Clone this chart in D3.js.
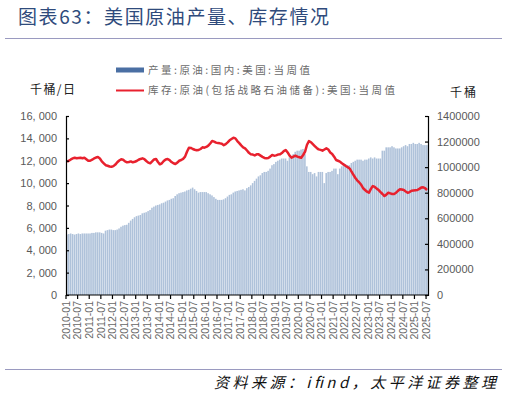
<html>
<head>
<meta charset="utf-8">
<script src="https://d3js.org/d3.v7.min.js"></script>
<style>
body { margin: 0; background: #fff; }
svg text { font-family: "Liberation Sans", Arial, sans-serif; }
.cjk { font-family: "Noto Sans CJK SC", sans-serif; }
</style>
</head>
<body>
<svg width="507" height="396"></svg>
<script>
// months 2010-01 .. 2025-07
var months = [];
for (var y = 2010; y <= 2025; y++) {
  for (var m = 1; m <= 12; m++) {
    if (y == 2025 && m > 7) break;
    months.push(y + "-" + (m < 10 ? "0" + m : m));
  }
}

// crude production, thousand b/d (monthly read-off)
var production = [
  5400,5450,5500,5450,5400,5450,5500,5450,5500,5500,5500,5500,
  5500,5550,5550,5600,5600,5600,5550,5500,5750,5800,5850,5850,
  5800,5800,5850,5950,6100,6200,6250,6280,6450,6650,6800,6950,
  7050,7100,7150,7300,7350,7400,7500,7600,7800,7900,8000,8050,
  8100,8200,8250,8350,8450,8500,8600,8650,8850,9000,9100,9150,
  9200,9250,9350,9400,9500,9600,9450,9300,9150,9200,9200,9200,
  9200,9100,9000,8900,8750,8600,8500,8500,8500,8550,8650,8800,
  8950,9000,9150,9250,9300,9350,9400,9450,9350,9550,9650,9800,
  10000,10200,10400,10600,10700,10900,11000,11000,11100,11300,11600,11700,
  11900,12000,12100,12200,12200,12200,12000,12300,12400,12600,12800,12900,
  12900,13000,13050,12600,11500,11000,11000,10800,10900,10600,11000,11000,
  11000,10000,10900,11000,11000,11100,11300,11300,10800,11300,11500,11700,
  11700,11600,11600,11800,11900,12000,12100,12100,12100,12000,12100,12100,
  12200,12300,12200,12300,12200,12200,12200,12900,12900,13200,13200,13200,
  13300,13200,13100,13100,13100,13200,13300,13400,13300,13500,13500,13600,
  13500,13500,13600,13500,13400,13400,13400
];

// crude stocks incl. SPR, thousand barrels
var stocks = [
  1043000,1050000,1060000,1068000,1074000,1070000,1072000,1074000,1070000,1074000,1062000,1050000,
  1050000,1058000,1068000,1075000,1079000,1068000,1045000,1030000,1015000,1011000,1005000,1003000,
  1008000,1020000,1038000,1052000,1061000,1058000,1045000,1038000,1040000,1045000,1038000,1042000,
  1048000,1058000,1064000,1069000,1062000,1048000,1035000,1030000,1045000,1060000,1064000,1040000,
  1022000,1030000,1048000,1060000,1064000,1055000,1040000,1030000,1025000,1035000,1050000,1056000,
  1065000,1082000,1120000,1152000,1150000,1142000,1136000,1132000,1134000,1142000,1155000,1152000,
  1158000,1168000,1185000,1205000,1200000,1192000,1188000,1186000,1183000,1172000,1180000,1194000,
  1210000,1220000,1230000,1225000,1204000,1188000,1170000,1155000,1147000,1130000,1112000,1100000,
  1098000,1092000,1100000,1100000,1090000,1080000,1072000,1069000,1072000,1082000,1095000,1090000,
  1092000,1098000,1100000,1110000,1125000,1134000,1115000,1090000,1074000,1082000,1090000,1082000,
  1078000,1074000,1095000,1121000,1175000,1204000,1195000,1180000,1165000,1150000,1139000,1135000,
  1129000,1138000,1147000,1138000,1115000,1103000,1082000,1056000,1050000,1043000,1030000,1020000,
  1009000,1000000,990000,965000,940000,915000,895000,880000,862000,835000,821000,808000,
  800000,830000,852000,845000,832000,821000,805000,790000,774000,785000,800000,795000,
  790000,790000,800000,815000,827000,825000,821000,810000,800000,805000,816000,818000,
  820000,821000,830000,840000,842000,835000,821000
];

var leftTicks = [0, 2000, 4000, 6000, 8000, 10000, 12000, 14000, 16000];
var rightTicks = [0, 200000, 400000, 600000, 800000, 1000000, 1200000, 1400000];
var legendNames = ["产量:原油:国内:美国:当周值", "库存:原油(包括战略石油储备):美国:当周值"];

var svg = d3.select("svg");
var plotLeft = 66, plotRight = 428, plotTop = 116, plotBottom = 295;

var x = d3.scaleBand().domain(d3.range(months.length)).range([plotLeft, plotRight]).padding(0);
var yL = d3.scaleLinear().domain([0, 16000]).range([plotBottom, plotTop]);
var yR = d3.scaleLinear().domain([0, 1400000]).range([plotBottom, plotTop]);

// title
svg.append("text").attr("class", "cjk")
  .attr("x", 18).attr("y", 24)
  .attr("font-size", 19).attr("fill", "#2f4b7c")
  .attr("textLength", 311).attr("lengthAdjust", "spacing")
  .text("图表63：美国原油产量、库存情况");
svg.append("line").attr("x1", 5).attr("x2", 502).attr("y1", 38.5).attr("y2", 38.5)
  .attr("stroke", "#9a9ac0").attr("stroke-width", 1.2);

// bars
svg.append("g").selectAll("rect").data(production).enter().append("rect")
  .attr("x", function(d, i) { return x(i); })
  .attr("width", x.bandwidth() - 0.35)
  .attr("y", function(d) { return yL(d); })
  .attr("height", function(d) { return yL(0) - yL(d); })
  .attr("fill", "#afc2da");

// line
var line = d3.line()
  .x(function(d, i) { return x(i) + x.bandwidth() / 2; })
  .y(function(d) { return yR(d); })
  .curve(d3.curveLinear);
svg.append("path").datum(stocks)
  .attr("d", line).attr("fill", "none")
  .attr("stroke", "#e8212e").attr("stroke-width", 2.5)
  .attr("stroke-linejoin", "round");

// axes
var gL = svg.append("g").attr("transform", "translate(" + plotLeft + ",0)")
  .call(d3.axisLeft(yL).tickValues(leftTicks).tickSize(-3).tickPadding(9).tickFormat(d3.format(",")));
gL.selectAll("text").attr("font-size", 11).attr("fill", "#595959")
  .text(function(d) { return d3.format(",")(d).replace(",", ", "); });

var gR = svg.append("g").attr("transform", "translate(" + plotRight + ",0)")
  .call(d3.axisRight(yR).tickValues(rightTicks).tickSize(-3).tickPadding(9).tickFormat(d3.format("d")));
gR.selectAll("text").attr("font-size", 11).attr("fill", "#595959");

var tickIdx = d3.range(0, months.length, 6);
var gB = svg.append("g").attr("transform", "translate(0," + plotBottom + ")")
  .call(d3.axisBottom(x).tickValues(tickIdx).tickSize(4).tickFormat(function(i) { return months[i]; }));
gB.selectAll(".tick line").attr("transform", "translate(" + (-x.bandwidth() / 2) + ",0)");
gB.selectAll("text")
  .attr("font-size", 10.5).attr("fill", "#666")
  .attr("text-anchor", "end")
  .attr("transform", "rotate(-90)")
  .attr("x", -6).attr("y", -x.bandwidth() / 2).attr("dy", "0.35em");
gB.select(".domain").attr("d", "M" + plotLeft + ",0H" + plotRight);
[gL, gR, gB].forEach(function(g) {
  g.selectAll("line, path").attr("stroke", "#000").attr("stroke-width", 1.2);
});

// units
svg.append("text").attr("class", "cjk").attr("x", 30).attr("y", 94)
  .attr("font-size", 12).attr("fill", "#222")
  .attr("textLength", 45).attr("lengthAdjust", "spacing").text("千桶/日");
svg.append("text").attr("class", "cjk").attr("x", 450).attr("y", 97)
  .attr("font-size", 12).attr("fill", "#222")
  .attr("textLength", 26).attr("lengthAdjust", "spacing").text("千桶");

// legend
var legendWidths = [162, 247];
svg.append("rect").attr("x", 116).attr("y", 67.5).attr("width", 28).attr("height", 5).attr("fill", "#4a6fa3");
svg.append("line").attr("x1", 116).attr("x2", 144).attr("y1", 90.5).attr("y2", 90.5)
  .attr("stroke", "#e8212e").attr("stroke-width", 2);
svg.selectAll(".leg").data(legendNames).enter().append("text")
  .attr("class", "cjk")
  .attr("x", 148).attr("y", function(d, i) { return 74 + i * 20; })
  .attr("font-size", 10.5).attr("fill", "#6b6b6b")
  .attr("textLength", function(d, i) { return legendWidths[i]; })
  .attr("lengthAdjust", "spacing")
  .text(function(d) { return d; });

// footer
svg.append("line").attr("x1", 5).attr("x2", 502).attr("y1", 369.5).attr("y2", 369.5)
  .attr("stroke", "#9a9ac0").attr("stroke-width", 1.2);
svg.append("text").attr("class", "cjk")
  .attr("x", 214).attr("y", 388)
  .attr("font-size", 15).attr("font-style", "italic").attr("fill", "#111")
  .attr("textLength", 282).attr("lengthAdjust", "spacing")
  .text("资料来源：ifind，太平洋证券整理");
</script>
</body>
</html>
